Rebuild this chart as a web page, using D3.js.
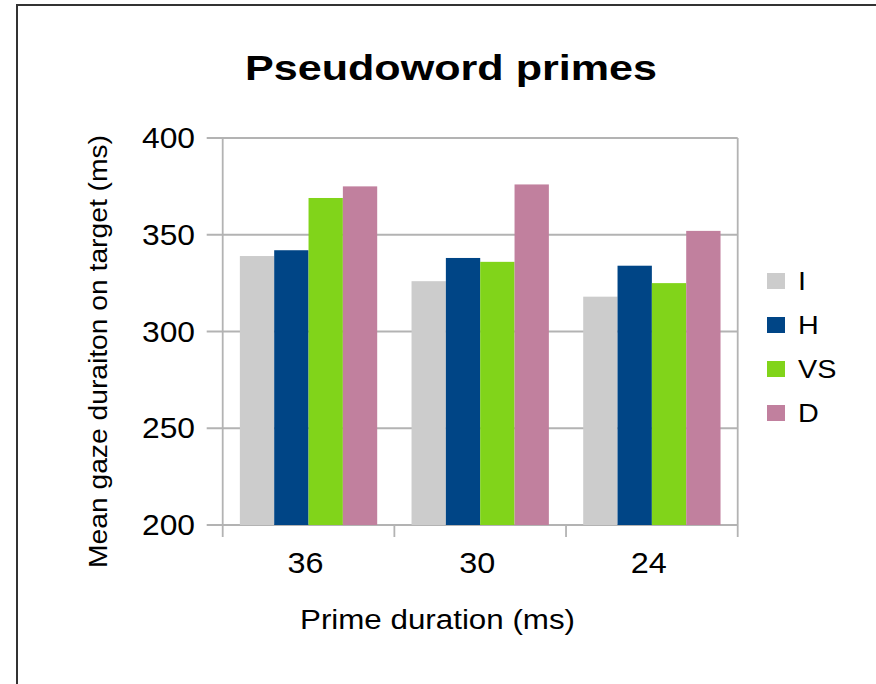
<!DOCTYPE html>
<html>
<head>
<meta charset="utf-8">
<script src="https://cdn.jsdelivr.net/npm/d3@7"></script>
<style>
  body { margin: 0; background: #fff; }
  svg text { font-family: "Liberation Sans", Arial, sans-serif; fill: #000; }
</style>
</head>
<body>
<script>
//-----------------Data----------------

const categories = ["36", "30", "24"];
const series = ["I", "H", "VS", "D"];
const valuesI = [339, 326, 318];
const valuesH = [342, 338, 334];
const valuesVS = [369, 336, 325];
const valuesD = [375, 376, 352];
const yTicks = [200, 250, 300, 350, 400];
const colors = ["#cccccc", "#004586", "#81d41a", "#c1809e"];

const table = categories.map((c, i) => ({
  cat: c,
  vals: [valuesI[i], valuesH[i], valuesVS[i], valuesD[i]]
}));

//-----------------Svg----------------

const width = 876;
const height = 684;
const plot = { left: 222.7, right: 737.7, top: 138, bottom: 525 };
const gridColor = "#b3b3b3";

const svg = d3.select("body").append("svg").attr("width", width).attr("height", height);

svg.append("rect").attr("width", width).attr("height", height).attr("fill", "#fff");

// outer frame, runs off the right and bottom edges
svg
  .append("rect")
  .attr("x", 17)
  .attr("y", 5)
  .attr("width", 1000)
  .attr("height", 1000)
  .attr("fill", "none")
  .attr("stroke", "#333")
  .attr("stroke-width", 2);

// stretch text to a measured width
function fit(sel, size, len) {
  sel.style("font-size", size + "px").attr("textLength", len).attr("lengthAdjust", "spacingAndGlyphs");
}

//---------------Scales---------------------

const xScale = d3.scaleBand().domain(categories).range([plot.left, plot.right]);
const bw = xScale.bandwidth();
const xInner = d3.scaleBand().domain(series).range([bw * 0.1, bw * 0.9]);
const yScale = d3.scaleLinear().domain([200, 400]).range([plot.bottom, plot.top]);

//-------------Grid----------------

svg
  .append("g")
  .selectAll("line")
  .data(yTicks)
  .join("line")
  .attr("x1", plot.left - 16)
  .attr("x2", plot.right)
  .attr("y1", (d) => yScale(d))
  .attr("y2", (d) => yScale(d))
  .attr("stroke", gridColor)
  .attr("stroke-width", 1.8);

// left axis, right frame and x ticks at band edges
const edges = categories.map((c) => xScale(c)).concat([plot.right]);
svg
  .append("g")
  .selectAll("line")
  .data(edges)
  .join("line")
  .attr("x1", (d) => d)
  .attr("x2", (d) => d)
  .attr("y1", (d, i) => (i === 0 || i === edges.length - 1 ? plot.top : plot.bottom))
  .attr("y2", plot.bottom + 12)
  .attr("stroke", gridColor)
  .attr("stroke-width", 1.8);

//-------------Bars----------------

const groups = svg
  .append("g")
  .selectAll("g")
  .data(table)
  .join("g")
  .attr("transform", (d) => "translate(" + xScale(d.cat) + ",0)");

groups
  .selectAll("rect")
  .data((d) => d.vals.map((v, i) => ({ key: series[i], v: v })))
  .join("rect")
  .attr("x", (d) => xInner(d.key))
  .attr("y", (d) => yScale(d.v))
  .attr("width", xInner.bandwidth())
  .attr("height", (d) => yScale(200) - yScale(d.v))
  .attr("fill", (d, i) => colors[i]);

//------------Axis labels----------------

const yAxis = d3.axisLeft(yScale).tickValues(yTicks).tickSize(0).tickPadding(27.7);
const yG = svg.append("g").attr("transform", "translate(" + plot.left + ",0)").call(yAxis);
yG.select(".domain").remove();
yG.selectAll("text").style("fill", "#000").call(fit, 29, 53).attr("dy", "0.33em");

const xAxis = d3.axisBottom(xScale).tickSize(0).tickPadding(27);
const xG = svg.append("g").attr("transform", "translate(0," + plot.bottom + ")").call(xAxis);
xG.select(".domain").remove();
xG.selectAll("text").style("fill", "#000").attr("dx", "-3").call(fit, 30, 36);

//----------------Titles-----------------

svg
  .append("text")
  .attr("x", 451)
  .attr("y", 80)
  .style("text-anchor", "middle")
  .style("font-weight", "bold")
  .text("Pseudoword primes")
  .call(fit, 35, 412);

svg
  .append("text")
  .attr("x", 437.5)
  .attr("y", 629)
  .style("text-anchor", "middle")
  .text("Prime duration (ms)")
  .call(fit, 27, 275);

svg
  .append("text")
  .attr("transform", "translate(107,351.5) rotate(-90)")
  .style("text-anchor", "middle")
  .text("Mean gaze duraiton on target (ms)")
  .call(fit, 26, 433);

//-----------Legend--------------

const legendY = d3.scalePoint().domain(series).range([281, 413]);
const legend = svg.append("g").attr("id", "legend");

legend
  .selectAll("rect")
  .data(series)
  .join("rect")
  .attr("x", 767)
  .attr("y", (d) => legendY(d) - 8)
  .attr("width", 18)
  .attr("height", 16)
  .attr("fill", (d, i) => colors[i]);

legend
  .selectAll("text")
  .data(series)
  .join("text")
  .attr("x", 798)
  .attr("y", (d) => legendY(d) + 9)
  .style("font-size", "25px")
  .text((d) => d)
  .each(function () {
    const t = d3.select(this);
    t.attr("textLength", this.getComputedTextLength() * 1.15).attr("lengthAdjust", "spacingAndGlyphs");
  });
</script>
</body>
</html>
